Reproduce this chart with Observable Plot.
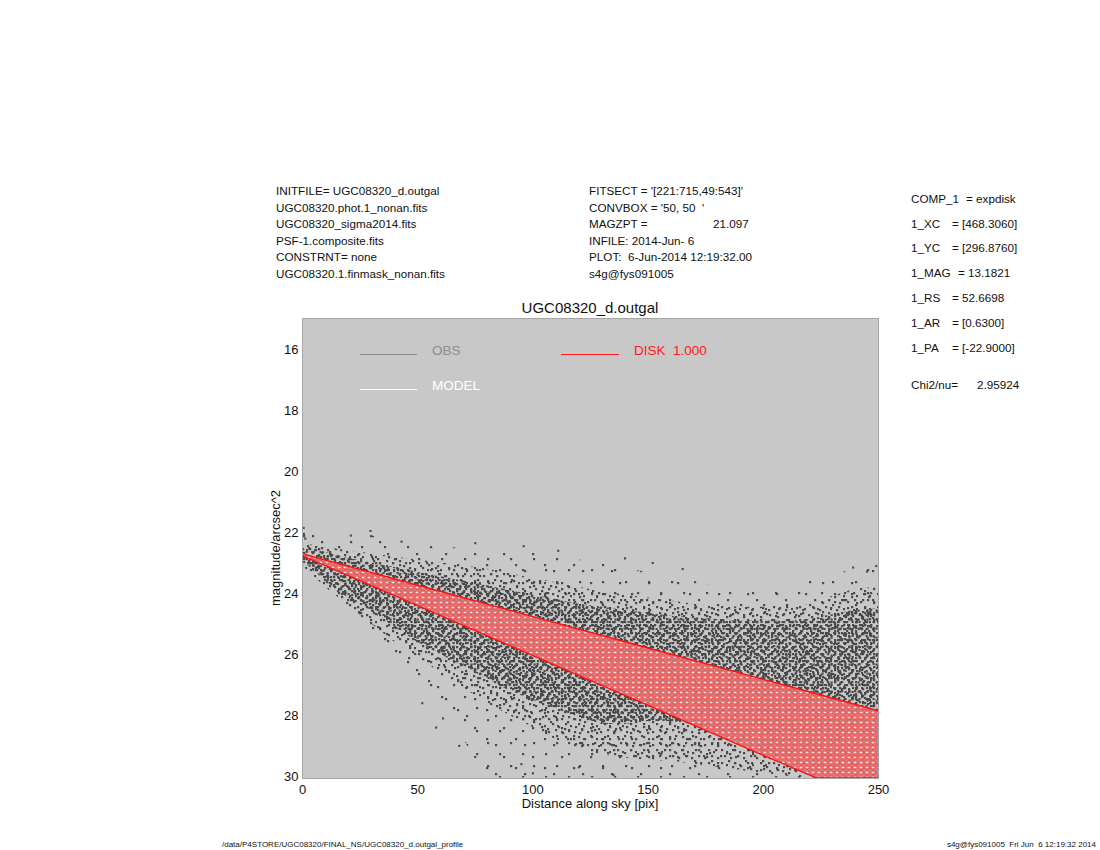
<!DOCTYPE html>
<html><head><meta charset="utf-8">
<script src="https://cdn.jsdelivr.net/npm/d3@7"></script>
<script src="https://cdn.jsdelivr.net/npm/@observablehq/plot@0.6"></script>
<style>
body{margin:0;background:#fff;}
#page{position:relative;width:1100px;height:850px;font-family:"Liberation Sans",Arial,Helvetica,sans-serif;color:#111;overflow:hidden}
#page svg{position:absolute;left:0;top:0}
.t{position:absolute;white-space:pre;line-height:1}
.ln{position:absolute;height:0}
</style></head><body><div id="page"></div>
<script>
// ---- data ----
const obsX        = [0,10,20,30,40,50,60,70,80,90,100,110,120,130,140,150,160,170,180,190,200,210,220,230,240,250];
const sparseTop   = [22.0,22.2,22.3,22.1,22.4,22.4,22.5,22.5,22.6,22.6,22.6,22.8,22.9,23.0,23.2,23.3,23.5,23.6,23.8,23.9,24.0,23.9,23.6,23.4,23.2,23.2];
const sparseBot   = [23.3,24.1,24.8,25.5,26.4,26.9,27.5,28.8,30.05,30.05,30.05,30.05,30.05,30.05,30.05,30.05,30.05,30.05,30.05,30.05,30.05,30.05,30.05,30.05,30.05,30.05];
const mediumTop   = [22.35,22.5,22.6,22.7,22.8,22.9,23.0,23.1,23.2,23.35,23.5,23.65,23.8,23.95,24.05,24.15,24.25,24.35,24.4,24.45,24.45,24.4,24.35,24.1,23.85,23.8];
const mediumBot   = [23.1,23.8,24.4,25.0,25.6,26.1,26.6,27.1,27.6,28.0,28.4,28.8,29.1,29.3,29.4,29.5,29.5,29.6,29.7,29.8,29.9,30.0,30.05,30.05,30.05,30.05];
const denseTop    = [22.45,22.65,22.85,23.0,23.15,23.3,23.45,23.6,23.75,23.9,24.05,24.2,24.35,24.45,24.55,24.65,24.75,24.8,24.85,24.9,24.9,24.9,24.85,24.7,24.55,24.5];
const denseBot    = [22.95,23.6,24.15,24.6,25.1,25.6,26.0,26.4,26.8,27.2,27.5,27.8,28.05,28.3,28.3,28.2,28.2,28.3,28.6,28.9,29.2,29.5,29.8,30.0,30.0,30.0];
const outlierX    = [0.5,0.6,1.2,29.5,21,43,75,96,111,140,152,165,239,245,249,61,58,95,100,52,68,120,135];
const outlierY    = [21.85,22.05,22.2,21.95,22.1,22.3,22.35,22.45,22.6,22.85,23.0,23.2,23.15,23.28,23.1,28.1,28.4,29.6,29.9,27.6,29.0,29.7,29.95];
const modelX      = [1,50,100,150,200,223,250];
const modelTop    = [22.72,23.73,24.76,25.79,26.82,27.29,27.85];
const modelBottom = [22.8,24.4,26.04,27.67,29.31,30.05,30.05];
const xTicks = [0,50,100,150,200,250];
const yTicks = [16,18,20,22,24,26,28,30];

const headerLeft = ["INITFILE= UGC08320_d.outgal","UGC08320.phot.1_nonan.fits","UGC08320_sigma2014.fits","PSF-1.composite.fits","CONSTRNT= none","UGC08320.1.finmask_nonan.fits"];
const headerMid  = ["FITSECT = '[221:715,49:543]'","CONVBOX = '50, 50  '","MAGZPT =","INFILE: 2014-Jun- 6","PLOT:  6-Jun-2014 12:19:32.00","s4g@fys091005"];
const paramKeys  = ["COMP_1","1_XC","1_YC","1_MAG","1_RS","1_AR","1_PA"];
const paramVals  = ["= expdisk","= [468.3060]","= [296.8760]","= 13.1821","= 52.6698","= [0.6300]","= [-22.9000]"];

const obsRows = obsX.map((x,i)=>({x, st:sparseTop[i], sb:sparseBot[i], mt:mediumTop[i], mb:mediumBot[i], dt:denseTop[i], db:denseBot[i]}));
const outRows = outlierX.map((x,i)=>({x, y:outlierY[i]}));
const modelRows = modelX.map((x,i)=>({x, top:modelTop[i], bot:modelBottom[i]}));

const band = (y1, y2, pat) => Plot.areaY(obsRows,{x:"x", y1, y2, fill:`url(#${pat})`, clip:true});

const svg = Plot.plot({
  width:1100, height:850,
  marginLeft:302, marginRight:222, marginTop:318, marginBottom:72,
  style:{fontSize:"13px", fontFamily:'"Liberation Sans",Arial,sans-serif', color:"#111", background:"transparent"},
  x:{domain:[0,250], ticks:xTicks, tickSize:0, tickPadding:6, label:null},
  y:{domain:[14.98,30.07], reverse:true, ticks:yTicks, tickSize:0, tickPadding:4, label:null},
  marks:[
    Plot.frame({fill:"#c8c8c8"}),
    band("st","sb","pF"), band("st","sb","pG"),
    band("mt","mb","pD"), band("mt","mb","pE"),
    band("dt","db","pA"), band("dt","db","pB"), band("dt","db","pC"),
    Plot.dot(outRows,{x:"x", y:"y", symbol:"square", r:1.2, fill:"#4a4a4a", clip:true}),
    Plot.areaY(modelRows,{x:"x", y1:"top", y2:"bot", fill:"url(#modelFill)", fillOpacity:0.93, clip:true}),
    Plot.line(modelRows,{x:"x", y:"top", stroke:"#ff1010", strokeWidth:1.4, clip:true}),
    Plot.line(modelRows,{x:"x", y:"bot", stroke:"#ff1010", strokeWidth:1.4, clip:true}),
    Plot.frame({stroke:"#a6a6a6"})
  ]
});

// point textures (co-prime tile sizes so that the overlay looks irregular)
function pat(id, size, pts, s=2.2){
  return `<pattern id="${id}" patternUnits="userSpaceOnUse" width="${size}" height="${size}">` +
    pts.map(([x,y])=>`<rect x="${x}" y="${y}" width="${s}" height="${s}" fill="#4a4a4a"/>`).join("") + `</pattern>`;
}
svg.insertAdjacentHTML("afterbegin", `<defs>
${pat("pA", 7, [[1,2],[4.5,5]])}
${pat("pB", 9, [[0,0],[6,3],[2.5,6.5]])}
${pat("pC", 11, [[3,1],[8,5],[1,8]])}
${pat("pD", 13, [[2,3],[9,1],[6,8],[11,10]])}
${pat("pE", 17, [[1,1],[12,4],[6,7],[14,12],[3,14]])}
${pat("pF", 23, [[4,6],[16,17]])}
${pat("pG", 29, [[10,2],[2,19],[22,13]])}
<pattern id="modelFill" patternUnits="userSpaceOnUse" width="6" height="5">
 <rect x="0" y="0" width="6" height="5" fill="#ec6a6a"/>
 <ellipse cx="3" cy="2.5" rx="1.9" ry="1.4" fill="#f7e4e4" stroke="#ff2222" stroke-width="0.6"/>
 <rect x="0" y="0" width="1" height="1" fill="#b09090"/>
</pattern>
</defs>`);

const page = document.getElementById("page");
page.appendChild(svg);

function txt(s, x, cy, size, anchor="start", color="#111", extra={}){
  const d = document.createElement("div");
  d.className = "t";
  d.textContent = s;
  d.style.left = x + "px";
  d.style.top = (cy - size*0.5) + "px";
  d.style.fontSize = size + "px";
  d.style.color = color;
  if (anchor === "middle") d.style.transform = "translateX(-50%)";
  if (anchor === "end") d.style.transform = "translateX(-100%)";
  Object.assign(d.style, extra);
  page.appendChild(d);
  return d;
}
function hline(x1, x2, y, color, w){
  const d = document.createElement("div");
  d.className = "ln";
  d.style.left = x1 + "px"; d.style.width = (x2-x1) + "px";
  d.style.top = (y - w/2) + "px";
  d.style.borderTop = w + "px solid " + color;
  page.appendChild(d);
}

const HF = 11.7;
const hdrY = [191,208,224,241,257,274];
headerLeft.forEach((s,i)=>txt(s, 276, hdrY[i], HF));
headerMid.forEach((s,i)=>txt(s, 589, hdrY[i], HF));
txt("21.097", 713, hdrY[2], HF);

const parY = [199,224,248,273,298,323,348];
const parEq = [966,952,952,958,952,952,952];
paramKeys.forEach((k,i)=>{ txt(k, 911, parY[i], HF); txt(paramVals[i], parEq[i], parY[i], HF); });
txt("Chi2/nu=", 911, 385, HF);
txt("2.95924", 977, 385, HF);

txt("UGC08320_d.outgal", 590, 307, 15, "middle");

// in-plot legend
hline(360, 417, 355, "#8e8e8e", 1.5);
txt("OBS", 432, 351, 13.5, "start", "#8e8e8e");
hline(360, 417, 390, "#ffffff", 1.5);
txt("MODEL", 432, 386, 13.5, "start", "#ffffff");
hline(561, 619, 355, "#ff1a1a", 1.5);
txt("DISK  1.000", 634, 351, 13.5, "start", "#ff1a1a");

// axis titles
txt("Distance along sky [pix]", 590, 803, 13, "middle");
const yl = txt("magnitude/arcsec^2", 275, 548, 13, "start", "#111");
yl.style.left = "275px"; yl.style.top = "548px";
yl.style.transform = "translate(-50%,-50%) rotate(-90deg)";

// footer
txt("/data/P4STORE/UGC08320/FINAL_NS/UGC08320_d.outgal_profile", 222, 845, 8);
txt("s4g@fys091005  Fri Jun  6 12:19:32 2014", 1096, 845, 8, "end");
</script>
</body></html>
